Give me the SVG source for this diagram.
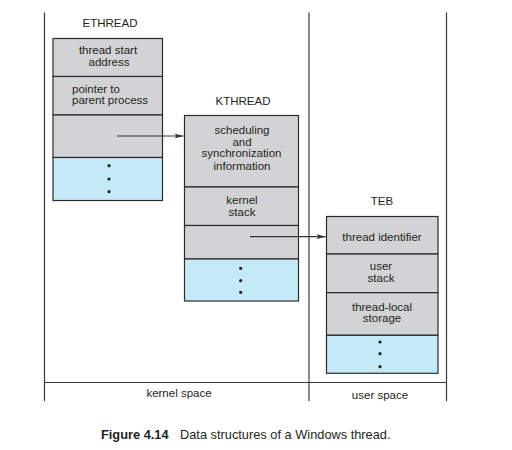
<svg xmlns="http://www.w3.org/2000/svg" width="512" height="450" viewBox="0 0 512 450">
<style>
text{font-family:"Liberation Sans",Arial,sans-serif;font-size:11.5px;fill:#231f20;text-anchor:middle}
.g{fill:#d2d3d5;stroke:#2b2b2b;stroke-width:1.2}
.b{fill:#c6e9f8;stroke:#2b2b2b;stroke-width:1.2}
.d{fill:#231f20}
.frame{stroke:#3a3a3a;stroke-width:1.2;fill:none}
.conn{stroke:#333;stroke-width:1.2;fill:none;marker-end:url(#ah)}
.cap{font-size:12.8px}
</style>
<defs>
<marker id="ah" markerWidth="9" markerHeight="6" refX="9" refY="3" orient="auto" markerUnits="userSpaceOnUse">
<path d="M0,0.5 L9,3 L0,5.5 L2,3 Z" fill="#333"/>
</marker>
</defs>
<rect width="512" height="450" fill="#fff"/>
<g id="frame">
<line class="frame" x1="44.5" y1="12.5" x2="44.5" y2="401"/>
<line class="frame" x1="309" y1="12.5" x2="309" y2="401" stroke="#8a8a8a"/>
<line class="frame" x1="446.5" y1="12.5" x2="446.5" y2="401"/>
<line class="frame" x1="44.5" y1="382.5" x2="446.5" y2="382.5"/>
<text x="179" y="397">kernel space</text>
<text x="380" y="399">user space</text>
</g>
<g id="ethread">
<text x="110" y="27">ETHREAD</text>
<rect class="g" x="53" y="38.5" width="109.5" height="38"/>
<rect class="g" x="53" y="76.5" width="109.5" height="38.5"/>
<rect class="g" x="53" y="115" width="109.5" height="42.5"/>
<rect class="b" x="53" y="157.5" width="109.5" height="43"/>
<text x="108" y="54">thread start</text>
<text x="109" y="65.5">address</text>
<text x="72" y="93" style="text-anchor:start">pointer to</text>
<text x="72" y="104" style="text-anchor:start">parent process</text>
<circle class="d" cx="109" cy="165.7" r="1.6"/>
<circle class="d" cx="109" cy="179" r="1.6"/>
<circle class="d" cx="109" cy="191.7" r="1.6"/>
</g>
<g id="kthread">
<text x="243" y="105">KTHREAD</text>
<rect class="g" x="184.5" y="115.5" width="114" height="71.5"/>
<rect class="g" x="184.5" y="187" width="114" height="38.5"/>
<rect class="g" x="184.5" y="225.5" width="114" height="33.5"/>
<rect class="b" x="184.5" y="259" width="114" height="42"/>
<text x="242" y="134">scheduling</text>
<text x="242" y="145.7">and</text>
<text x="241.5" y="157.3">synchronization</text>
<text x="242" y="170">information</text>
<text x="242" y="204">kernel</text>
<text x="242" y="215.7">stack</text>
<circle class="d" cx="240.7" cy="268.3" r="1.6"/>
<circle class="d" cx="240.7" cy="280.7" r="1.6"/>
<circle class="d" cx="240.7" cy="292.3" r="1.6"/>
</g>
<g id="teb">
<text x="382" y="204.7">TEB</text>
<rect class="g" x="326.5" y="216.5" width="111.5" height="37.5"/>
<rect class="g" x="326.5" y="254" width="111.5" height="38.7"/>
<rect class="g" x="326.5" y="292.7" width="111.5" height="42.6"/>
<rect class="b" x="326.5" y="335.3" width="111.5" height="38"/>
<text x="382" y="240.7">thread identifier</text>
<text x="381" y="270">user</text>
<text x="381" y="282.3">stack</text>
<text x="382" y="310.7">thread-local</text>
<text x="382" y="322.3">storage</text>
<circle class="d" cx="380" cy="342" r="1.6"/>
<circle class="d" cx="380" cy="353.7" r="1.6"/>
<circle class="d" cx="380" cy="366.7" r="1.6"/>
</g>
<g id="connectors">
<line class="conn" x1="117" y1="136" x2="183.5" y2="136"/>
<line class="conn" x1="250" y1="236.7" x2="325.5" y2="236.7"/>
</g>
<g id="caption">
<text class="cap" x="101" y="438.5" style="text-anchor:start;font-weight:bold">Figure 4.14</text>
<text class="cap" x="180" y="438.5" style="text-anchor:start">Data structures of a Windows thread.</text>
</g>
</svg>
